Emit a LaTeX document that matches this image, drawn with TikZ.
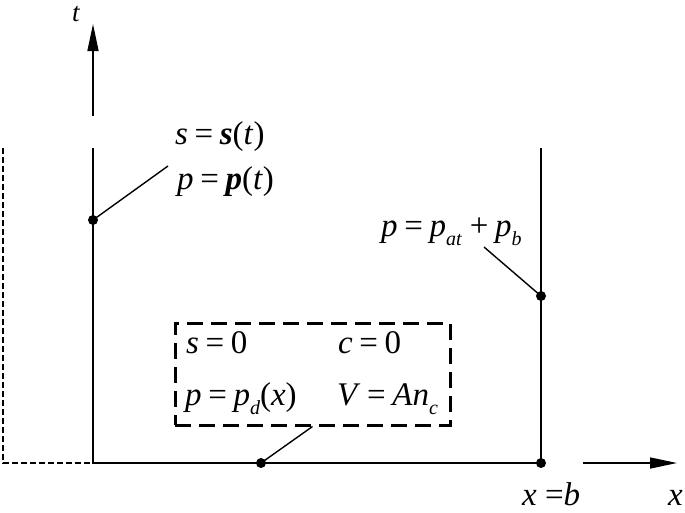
\documentclass[tikz,border=0pt]{standalone}
\usepackage{fontspec}
\setmainfont{Liberation Serif}
\usetikzlibrary{arrows.meta}
\newcommand{\eqs}{\hspace{0.2em}\textup{=}\hspace{0.2em}}
\newcommand{\subs}[1]{\raisebox{-0.28em}{\fontsize{20}{20}\selectfont\itshape #1}}
\tikzset{
  axis/.style={line width=1.5pt},
  bnd/.style={line width=1.4pt, dash pattern=on 6pt off 3pt},
  box/.style={draw, line width=3pt, dash pattern=on 16pt off 8pt, minimum width=275pt, minimum height=102pt, inner sep=0pt},
  lbl/.style={anchor=base west, inner sep=0pt, font=\fontsize{33}{38}\selectfont\itshape},
  dot/.style={circle, fill, inner sep=0pt, minimum size=10pt},
  lead/.style={line width=1.4pt},
  tip/.style={-{Triangle[length=27pt,width=11pt]}}
}
\begin{document}
\begin{tikzpicture}[x=1pt,y=-1pt]
  \useasboundingbox (0,0) rectangle (685,512);
  % axes
  \coordinate (o) at (93,463);
  \coordinate (tlo) at (93,148);
  \coordinate (thi) at (93,116);
  \coordinate (ttop) at (93,24);
  \coordinate (b) at (541,463);
  \coordinate (btop) at (541,148);
  \coordinate (xlo) at (583,463);
  \coordinate (xtop) at (677,463);
  \coordinate (l) at (3,463);
  \coordinate (ltop) at (3,148);
  \draw[axis] (tlo) -- (o) -- (b) -- (btop);
  \draw[axis,tip] (thi) -- (ttop);
  \draw[axis,tip] (xlo) -- (xtop);
  \draw[bnd] (ltop) -- (l) -- (o);
  % points
  \node[dot] (ps) at (93,220) {};
  \node[dot] (pb) at (541,296) {};
  \node[dot] (pd) at (261,463) {};
  \node[dot] (pbb) at (541,463) {};
  % labels
  \node[lbl,font=\fontsize{27}{30}\selectfont\itshape] (tl) at (72,21) {t};
  \node[lbl] (xl) at (668,505) {x};
  \node[lbl] (xb) at (522,505) {x \textup{=}\textit{b}};
  \node[lbl] (sl) at (175,144) {s\eqs\textbf{s}\textup{(}t\textup{)}};
  \node[lbl] (pl) at (177,189) {p\eqs\textbf{p}\textup{(}t\textup{)}};
  \node[lbl] (bl) at (381,236) {p\eqs p\subs{at}\hspace{0.25em}\textup{+}\hspace{0.2em}p\subs{b}};
  % initial state
  \node[box] (ini) at (312.5,374) {};
  \node[lbl] (s0) at (186,353) {s\eqs\textup{0}};
  \node[lbl] (c0) at (338,353) {c\eqs\textup{0}};
  \node[lbl] (p0) at (185,405) {p\eqs p\subs{d}\textup{(}x\textup{)}};
  \node[lbl] (v0) at (337,405) {V\eqs An\subs{c}};
  % leaders
  \coordinate (sa) at (168,166);
  \coordinate (ba) at (484,247);
  \draw[lead] (ps.center) -- (sa);
  \draw[lead] (pb.center) -- (ba);
  \draw[lead] (pd.center) -- (ini.south);
\end{tikzpicture}
\end{document}
